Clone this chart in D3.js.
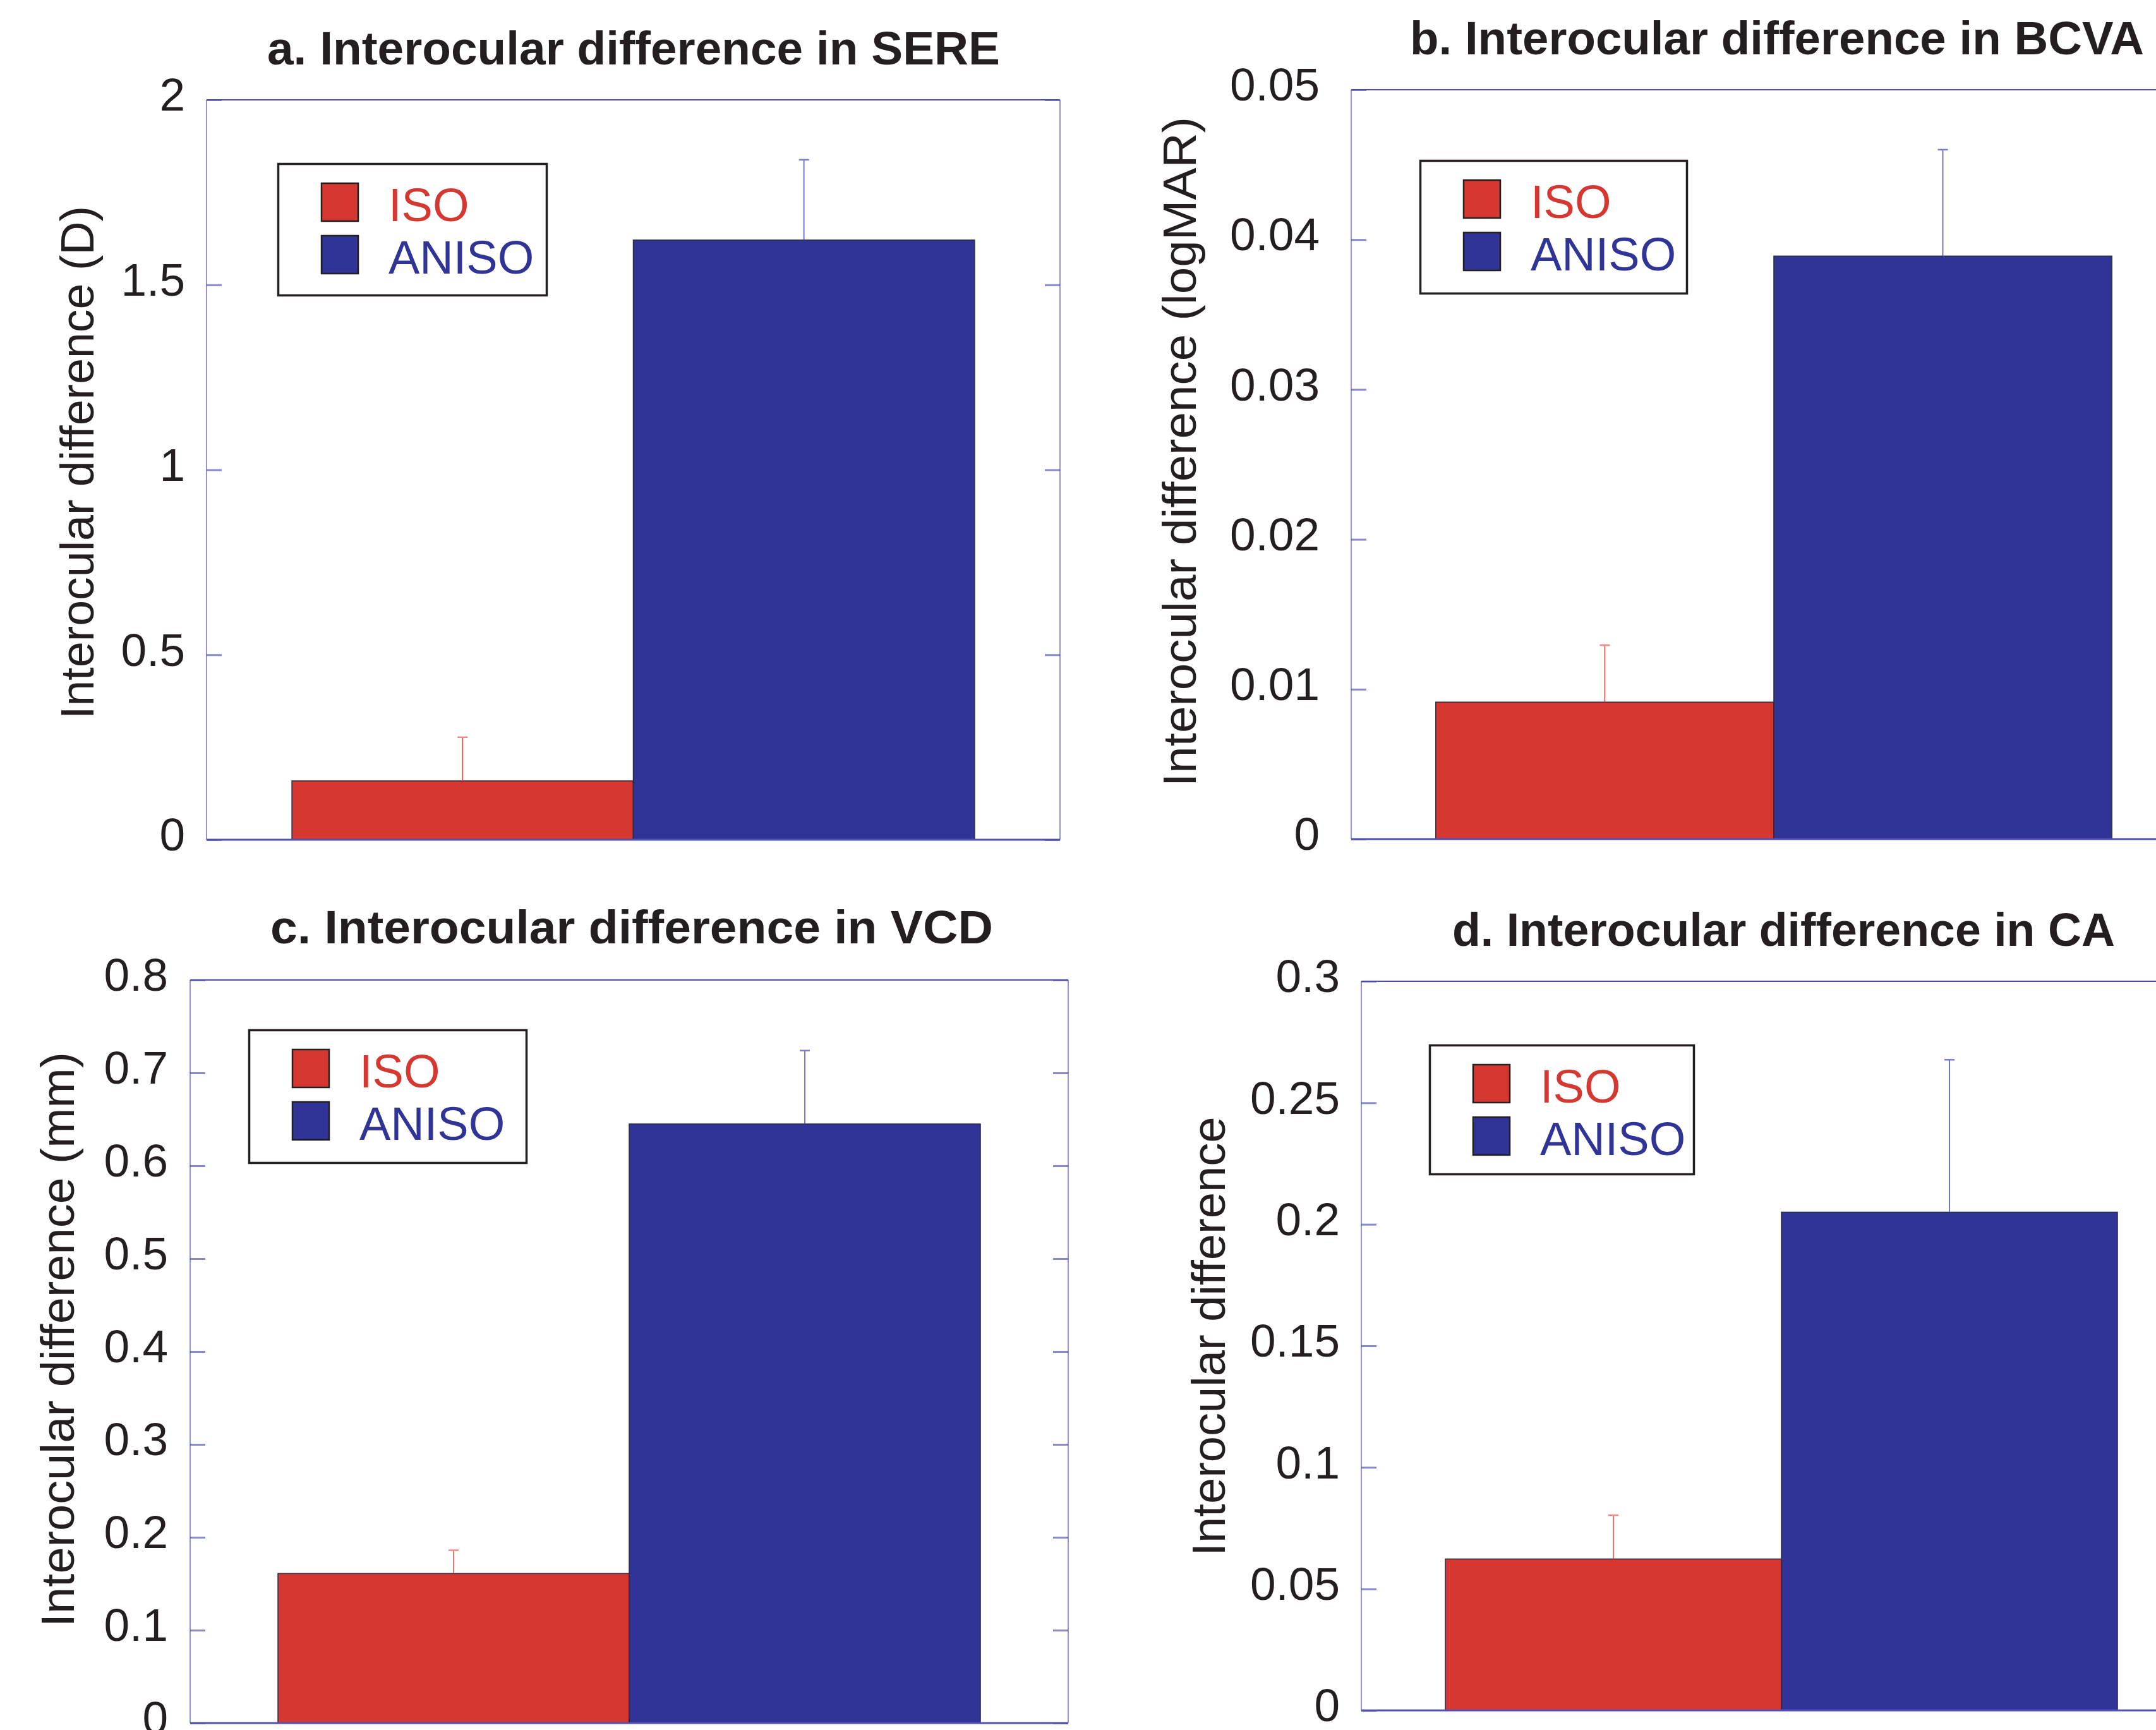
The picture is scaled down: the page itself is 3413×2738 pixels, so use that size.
<!DOCTYPE html>
<html><head><meta charset="utf-8">
<script src="https://cdn.jsdelivr.net/npm/d3@7"></script>
<style>html,body{margin:0;padding:0;background:#fff;} svg{display:block;}</style>
</head><body>
<svg id="chart" width="3413" height="2738"></svg>
<script>
// ---------- DATA ----------
const categories = ["ISO", "ANISO"];
const titles = [
  "a. Interocular difference in SERE",
  "b. Interocular difference in BCVA",
  "c. Interocular difference in VCD",
  "d. Interocular difference in CA"
];
const yLabels = [
  "Interocular difference (D)",
  "Interocular difference (logMAR)",
  "Interocular difference (mm)",
  "Interocular difference"
];
// means and (upper) error bar sizes
const sereMean = [0.159, 1.621];
const sereErr  = [0.118, 0.217];
const bcvaMean = [0.00914, 0.0389];
const bcvaErr  = [0.0038, 0.0071];
const vcdMean  = [0.161, 0.645];
const vcdErr   = [0.025, 0.079];
const caMean   = [0.0623, 0.205];
const caErr    = [0.018, 0.0627];
// tick values and labels
const sereTicks = [0, 0.5, 1, 1.5, 2];
const sereTickLabels = ["0", "0.5", "1", "1.5", "2"];
const bcvaTicks = [0, 0.01, 0.02, 0.03, 0.04, 0.05];
const bcvaTickLabels = ["0", "0.01", "0.02", "0.03", "0.04", "0.05"];
const vcdTicks = [0, 0.1, 0.2, 0.3, 0.4, 0.5, 0.6, 0.7, 0.8];
const vcdTickLabels = ["0", "0.1", "0.2", "0.3", "0.4", "0.5", "0.6", "0.7", "0.8"];
const caTicks = [0, 0.05, 0.1, 0.15, 0.2, 0.25, 0.3];
const caTickLabels = ["0", "0.05", "0.1", "0.15", "0.2", "0.25", "0.3"];

// ---------- STYLE / LAYOUT ----------
const colors = {ISO: "#d43830", ANISO: "#303496"};
const errColors = {ISO: "#e5463e", ANISO: "#4a4ab8"};
const capColors = {ISO: "#ee8a85", ANISO: "#7d7dc8"};
const FONT = "'Liberation Sans', Arial, Helvetica, sans-serif";

const layout = [
  {left:327, right:1678, top:158, bottom:1329, titleX:423, titleY:102, titleLen:1160,
   labelX:148, labelY:732, labelLen:812, tickGap:34, legX:439, legY:258, legW:428, legH:211},
  {left:2139, right:3477, top:142, bottom:1328, titleX:2232, titleY:86, titleLen:1162,
   labelX:1893, labelY:715, labelLen:1060, tickGap:50, legX:2247, legY:253, legW:425, legH:213},
  {left:301, right:1691, top:1551, bottom:2727, titleX:428, titleY:1493, titleLen:1144,
   labelX:117, labelY:2120, labelLen:910, tickGap:35, legX:393, legY:1629, legW:442, legH:213},
  {left:2155, right:3485, top:1553, bottom:2707, titleX:2299, titleY:1497, titleLen:1049,
   labelX:1939, labelY:2115, labelLen:695, tickGap:34, legX:2262, legY:1653, legW:421, legH:207}
];

const panels = [
  {mean: sereMean, err: sereErr, ticks: sereTicks, tickLabels: sereTickLabels},
  {mean: bcvaMean, err: bcvaErr, ticks: bcvaTicks, tickLabels: bcvaTickLabels},
  {mean: vcdMean,  err: vcdErr,  ticks: vcdTicks,  tickLabels: vcdTickLabels},
  {mean: caMean,   err: caErr,   ticks: caTicks,   tickLabels: caTickLabels}
];

const svg = d3.select("#chart");
svg.append("rect").attr("width", 3413).attr("height", 2738).attr("fill", "#fff");

panels.forEach((p, i) => {
  const L = layout[i];
  const ticks = p.ticks;
  const y = d3.scaleLinear().domain([0, ticks[ticks.length - 1]]).range([L.bottom, L.top]);
  const x = d3.scaleBand().domain(categories).range([L.left, L.right]).paddingInner(0).paddingOuter(0.25);
  const g = svg.append("g");

  // title
  g.append("text")
    .attr("x", L.titleX).attr("y", L.titleY)
    .attr("font-family", FONT).attr("font-weight", "bold").attr("font-size", 75)
    .attr("fill", "#231f20")
    .attr("textLength", L.titleLen).attr("lengthAdjust", "spacingAndGlyphs")
    .text(titles[i]);

  // y label
  g.append("text")
    .attr("transform", `translate(${L.labelX},${L.labelY}) rotate(-90)`)
    .attr("text-anchor", "middle")
    .attr("font-family", FONT).attr("font-size", 75).attr("fill", "#231f20")
    .attr("textLength", L.labelLen).attr("lengthAdjust", "spacingAndGlyphs")
    .text(yLabels[i]);

  // left axis with inside ticks
  const fmt = d => p.tickLabels[ticks.indexOf(d)];
  const axL = g.append("g").attr("transform", `translate(${L.left},0)`)
    .call(d3.axisLeft(y).tickValues(ticks).tickFormat(fmt).tickSizeInner(-24).tickSizeOuter(0).tickPadding(L.tickGap));
  axL.select(".domain").remove();
  axL.selectAll(".tick line").attr("stroke", "#8888cc").attr("stroke-width", 3);
  axL.selectAll(".tick text")
    .attr("font-family", FONT).attr("font-size", 73).attr("fill", "#231f20")
    .attr("dy", "0.23em");

  const axR = g.append("g").attr("transform", `translate(${L.right},0)`)
    .call(d3.axisRight(y).tickValues(ticks).tickFormat("").tickSizeInner(-24).tickSizeOuter(0));
  axR.select(".domain").remove();
  axR.selectAll(".tick line").attr("stroke", "#8888cc").attr("stroke-width", 3);

  // frame
  g.append("line").attr("x1", L.left).attr("x2", L.right).attr("y1", L.top).attr("y2", L.top)
    .attr("stroke", "#4a4ab0").attr("stroke-width", 2);
  g.append("line").attr("x1", L.left).attr("x2", L.left).attr("y1", L.top).attr("y2", L.bottom)
    .attr("stroke", "#4a4ab0").attr("stroke-width", 1.2);
  g.append("line").attr("x1", L.right).attr("x2", L.right).attr("y1", L.top).attr("y2", L.bottom)
    .attr("stroke", "#4a4ab0").attr("stroke-width", 1.2);

  // bars
  const data = categories.map((c, k) => ({cat: c, mean: p.mean[k], err: p.err[k]}));
  g.selectAll("rect.bar").data(data).enter().append("rect")
    .attr("class", "bar")
    .attr("x", d => x(d.cat)).attr("width", x.bandwidth())
    .attr("y", d => y(d.mean)).attr("height", d => y(0) - y(d.mean))
    .attr("fill", d => colors[d.cat])
    .attr("stroke", "#2a2a40").attr("stroke-width", 1.5);

  // bottom axis line
  g.append("line").attr("x1", L.left).attr("x2", L.right).attr("y1", L.bottom).attr("y2", L.bottom)
    .attr("stroke", "#5050b4").attr("stroke-width", 3);

  // error bars
  const eb = g.selectAll("g.err").data(data).enter().append("g").attr("class", "err");
  eb.append("line")
    .attr("x1", d => x(d.cat) + x.bandwidth() / 2).attr("x2", d => x(d.cat) + x.bandwidth() / 2)
    .attr("y1", d => y(d.mean)).attr("y2", d => y(d.mean + d.err))
    .attr("stroke", d => errColors[d.cat]).attr("stroke-width", 1.5);
  eb.append("line")
    .attr("x1", d => x(d.cat) + x.bandwidth() / 2 - 8).attr("x2", d => x(d.cat) + x.bandwidth() / 2 + 8)
    .attr("y1", d => y(d.mean + d.err)).attr("y2", d => y(d.mean + d.err))
    .attr("stroke", d => capColors[d.cat]).attr("stroke-width", 2.5);

  // legend
  const lg = g.append("g").attr("transform", `translate(${L.legX},${L.legY})`);
  lg.append("rect").attr("x", 1.5).attr("y", 1.5).attr("width", L.legW - 3).attr("height", L.legH - 3)
    .attr("fill", "#fff").attr("stroke", "#231f20").attr("stroke-width", 3.5);
  categories.forEach((c, k) => {
    const sy = 32 + k * 83;
    lg.append("rect").attr("x", 70).attr("y", sy).attr("width", 58).attr("height", 60)
      .attr("fill", colors[c]).attr("stroke", "#231f20").attr("stroke-width", 2.5);
    lg.append("text").attr("x", 176).attr("y", sy + 60)
      .attr("font-family", FONT).attr("font-size", 74).attr("fill", colors[c])
      .text(c);
  });
});
</script>
</body></html>
